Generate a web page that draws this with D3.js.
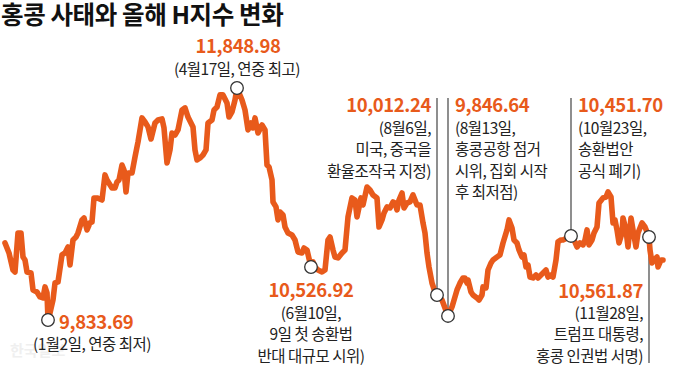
<!DOCTYPE html>
<html>
<head>
<meta charset="utf-8">
<script src="https://cdn.jsdelivr.net/npm/d3@7"></script>
<style>
  body { margin: 0; background: #fff; }
  svg { display: block; font-family: "Noto Sans CJK KR", "Noto Sans", sans-serif; }
</style>
</head>
<body>
<svg id="chart" width="680" height="369"></svg>
<script>
// H-index (Hang Seng China Enterprises) daily closes
var sessions = [0, 2, 4, 5, 6.5, 8, 9, 10, 11, 13, 14, 16, 17.5, 19, 20, 21, 21.5, 22.5, 24, 25,
  26.5, 28.5, 30, 31.5, 32.5, 34, 35.5, 36.5, 38.5, 39.5, 41, 42.5, 43.5, 44.5, 46, 48.5, 50, 51, 53.5, 55,
  56, 57, 58.5, 59.5, 60.5, 61.5, 63.5, 65, 66.5, 68.5, 70, 71.5, 73, 75, 76.5, 78.5, 79.5, 81, 82.5, 83.5,
  85, 86.5, 88.5, 90, 91.5, 94, 95, 96, 97.5, 99, 100.5, 101.5, 103.5, 104.5, 106, 107.5, 109, 111, 112, 113.5,
  115, 116, 118.5, 120, 121.5, 123, 124, 125, 126.5, 128.5, 130, 131, 132, 133.5, 134, 135.5, 136.5, 137.5, 139, 140,
  141.5, 143.5, 145, 146.5, 148.5, 149.5, 151, 153, 154, 155, 156.5, 158.5, 160, 161.5, 162.5, 164, 165, 166.5, 168.5, 170,
  171.5, 173.5, 175, 176, 178, 179, 181, 182.5, 184, 186, 187, 188.5, 189.5, 191, 192.5, 194, 195, 196, 197, 198.5,
  199.5, 201, 202.5, 204, 205, 206, 207.5, 209, 210, 211, 212, 213.5, 215, 216, 218.5, 221.5, 223.5, 226, 227.5, 229,
  230, 231, 231.5, 233, 234, 236, 237, 238.5, 239, 240.5, 241.5, 243, 244, 246, 247.5, 249, 251, 252, 253.5, 254.5,
  256, 257, 258.5, 259.5, 260.5, 261.5, 262.5, 264, 265.5, 266.5, 268, 269, 270.5, 271.5, 273, 274, 275.5, 276.5, 278, 279,
  281, 283, 284.5, 286, 287.5, 289, 290, 291, 292, 293.5, 294.5, 296, 297, 299, 300.5, 301.5, 303, 304, 305, 306,
  307, 308.5, 309, 310.5, 311.5, 313, 314, 315.5, 316.5, 318.5, 320, 322, 322.5, 323.5, 324.5, 326, 326.5, 328, 329];

var hIndex = [10503, 10416, 10268, 10251, 10590, 10590, 10381, 10355, 10251, 10242, 10095, 10077, 10034, 10025, 10121, 10069, 9833.69, 9895, 10008, 10155,
  10164, 10399, 10416, 10468, 10312, 10529, 10555, 10590, 10703, 10720, 10616, 10677, 10685, 10894, 10894, 10876, 11094, 11050, 10981, 10981,
  11033, 11050, 11180, 11137, 10946, 11111, 11111, 11250, 11380, 11589, 11554, 11511, 11406, 11545, 11571, 11580, 11502, 11198, 11311, 11458,
  11441, 11485, 11658, 11676, 11597, 11511, 11311, 11224, 11241, 11267, 11311, 11545, 11571, 11658, 11684, 11789, 11789, 11719, 11597, 11641,
  11745, 11848.98, 11745, 11658, 11485, 11545, 11502, 11589, 11458, 11528, 11485, 11180, 11163, 11050, 10859, 10816, 10703, 10772, 10746, 10642,
  10590, 10572, 10529, 10425, 10416, 10459, 10442, 10294, 10338, 10294, 10268, 10251, 10268, 10529, 10555, 10442, 10381, 10373, 10416, 10442,
  10729, 10894, 10876, 10729, 10894, 10833, 10989, 10963, 10920, 10894, 10642, 10703, 10764, 10816, 10807, 10859, 10850, 10790, 10876, 10937,
  10807, 10850, 10859, 10920, 10876, 10833, 10833, 10677, 10590, 10416, 10294, 10155, 10077, 10051, 10008, 9869, 9947, 10095, 10155, 10199,
  10199, 10155, 10181, 10077, 10051, 10025, 10008, 10051, 10121, 10112, 10268, 10329, 10355, 10381, 10399, 10503, 10616, 10703, 10633, 10529,
  10503, 10442, 10381, 10399, 10294, 10312, 10207, 10199, 10225, 10199, 10225, 10242, 10268, 10207, 10225, 10207, 10355, 10512, 10529, 10529,
  10546, 10564, 10529, 10468, 10503, 10486, 10529, 10616, 10486, 10529, 10590, 10642, 10850, 10894, 10902, 10946, 10902, 10677, 10703, 10616,
  10503, 10590, 10720, 10616, 10468, 10720, 10616, 10468, 10590, 10677, 10642, 10555, 10442, 10329, 10355, 10381, 10294, 10355, 10355];

// marked events: session, label value, note lines
var eventSessions = [21.5, 116, 153, 216, 221.5, 283, 322];
var eventValues = ["9,833.69", "11,848.98", "10,526.92", "10,012.24", "9,846.64", "10,451.70", "10,561.87"];
var eventNotes = [
  ["(1월2일, 연중 최저)"],
  ["(4월17일, 연중 최고)"],
  ["(6월10일,", "9일 첫 송환법", "반대 대규모 시위)"],
  ["(8월6일,", "미국, 중국을", "환율조작국 지정)"],
  ["(8월13일,", "홍콩공항 점거", "시위, 집회 시작", "후 최저점)"],
  ["(10월23일,", "송환법안", "공식 폐기)"],
  ["(11월28일,", "트럼프 대통령,", "홍콩 인권법 서명)"]
];

var svg = d3.select("#chart");
var orange = "#e85a1b";

var x = d3.scaleLinear().domain([0, 329]).range([5, 663]);
var y = d3.scaleLinear().domain([9833.69, 11848.98]).range([320, 88]);

// title
svg.append("text")
    .attr("x", 1)
    .attr("y", 24)
    .attr("font-size", 24.5)
    .attr("font-weight", 700)
    .attr("letter-spacing", -0.4)
    .attr("fill", "#111")
    .text("홍콩 사태와 올해 H지수 변화");

// watermark
svg.append("text")
    .attr("x", 10)
    .attr("y", 356)
    .attr("font-size", 15)
    .attr("font-weight", 700)
    .attr("fill", "#efefef")
    .text("한국일보");

// text layout for each event: anchor, x, baseline of value, leader line
var layout = [
  { anchor: "start", x: 59, y: 329, noteX: 33, noteAnchor: "start", noteY: 350 },
  { anchor: "middle", x: 238, y: 53, noteX: 237, noteAnchor: "middle", noteY: 75 },
  { anchor: "middle", x: 311, y: 297, noteX: 311, noteAnchor: "middle", noteY: 319 },
  { anchor: "end", x: 431, y: 112, noteX: 431, noteAnchor: "end", noteY: 134, lead: [98, -1] },
  { anchor: "start", x: 455, y: 112, noteX: 455, noteAnchor: "start", noteY: 134, lead: [98, -1] },
  { anchor: "start", x: 578, y: 112, noteX: 578, noteAnchor: "start", noteY: 134, lead: [98, -1] },
  { anchor: "end", x: 643, y: 298, noteX: 643, noteAnchor: "end", noteY: 319, lead: [1, 363] }
];
var lineGap = 21.3;
var r = 6.3;

// leader lines
eventSessions.forEach(function(s, i) {
    var L = layout[i];
    if (!L.lead) return;
    var cx = x(s), cy = y(hIndex[sessions.indexOf(s)]);
    var y1 = L.lead[1] === -1 ? L.lead[0] : cy + r;
    var y2 = L.lead[1] === -1 ? cy - r : L.lead[1];
    svg.append("line")
        .attr("x1", cx).attr("x2", cx)
        .attr("y1", y1).attr("y2", y2)
        .attr("stroke", "#444")
        .attr("stroke-width", 1.2);
});

var line = d3.line()
    .x(function(d, i) { return x(sessions[i]); })
    .y(function(d) { return y(d); });

svg.append("path")
    .datum(hIndex)
    .attr("fill", "none")
    .attr("stroke", orange)
    .attr("stroke-width", 5.6)
    .attr("stroke-linejoin", "round")
    .attr("stroke-linecap", "round")
    .attr("d", line);

// event circles
svg.selectAll("circle.ev")
    .data(eventSessions)
    .enter()
    .append("circle")
    .attr("class", "ev")
    .attr("cx", function(s) { return x(s); })
    .attr("cy", function(s) { return y(hIndex[sessions.indexOf(s)]); })
    .attr("r", r)
    .attr("fill", "#fff")
    .attr("stroke", "#333")
    .attr("stroke-width", 1.3);

// labels
eventValues.forEach(function(v, i) {
    var L = layout[i];
    svg.append("text")
        .attr("x", L.x)
        .attr("y", L.y)
        .attr("text-anchor", L.anchor)
        .attr("font-size", 18.5)
        .attr("font-weight", 700)
        .attr("letter-spacing", -0.4)
        .attr("fill", orange)
        .text(v);
    eventNotes[i].forEach(function(t, j) {
        svg.append("text")
            .attr("x", L.noteX)
            .attr("y", L.noteY + j * lineGap)
            .attr("text-anchor", L.noteAnchor)
            .attr("font-size", 15.5)
            .attr("letter-spacing", -0.5)
            .attr("fill", "#222")
            .text(t);
    });
});
</script>
</body>
</html>
